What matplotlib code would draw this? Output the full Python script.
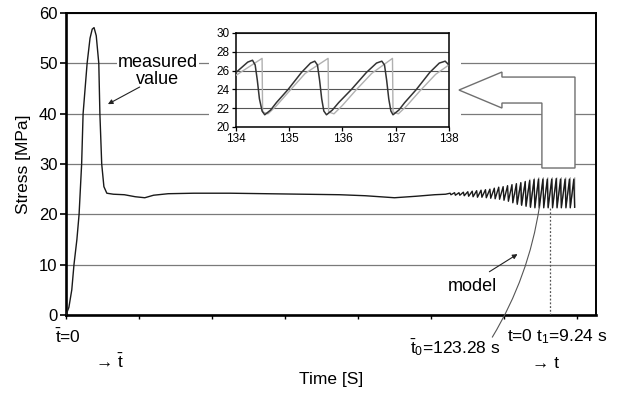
import matplotlib.pyplot as plt
from matplotlib.patches import Polygon, Rectangle

plt.rcParams['font.family'] = ['Liberation Sans', 'DejaVu Sans']
plt.rcParams['mathtext.fontset'] = 'custom'
plt.rcParams['mathtext.rm'] = 'Liberation Sans'
plt.rcParams['mathtext.it'] = 'Liberation Sans'

# ---- measured stress: start-up peak and steady part (s, MPa) ----
meas_t = [0, 0.8, 1.6, 2.2, 3.0, 3.6, 4.3, 4.7, 5.8, 6.6, 7.2, 7.7, 8.3, 9.0, 9.3,
          9.8, 10.4, 11.2, 13, 16, 19, 21.6, 24, 28, 35, 45, 55, 65, 75, 82,
          90, 96, 101, 104]
meas_v = [0, 1.5, 5, 10, 15, 20, 30, 40, 50, 55, 56.8, 57.1, 55.5, 50, 40,
          30, 25.5, 24.2, 24.0, 23.9, 23.5, 23.3, 23.8, 24.1, 24.2, 24.2, 24.1, 24.0, 23.9, 23.7,
          23.3, 23.6, 23.9, 24.0]

# ---- measured oscillation: one peak and one trough per cycle ----
osc_peak_t = [105.25, 106.46, 107.67, 108.88, 110.09, 111.30, 112.51, 113.72, 114.93, 116.14,
              117.35, 118.56, 119.77, 120.98, 122.19, 123.40, 124.61, 125.82, 127.03, 128.24,
              129.45, 130.66, 131.87, 133.08, 134.31, 135.48, 136.74, 137.93, 139.13]
osc_peak_v = [24.2, 24.3, 24.3, 24.4, 24.5, 24.6, 24.7, 24.8, 24.9, 25.0,
              25.2, 25.4, 25.5, 25.7, 25.9, 26.1, 26.3, 26.5, 26.7, 26.9,
              27.0, 27.0, 27.0, 27.0, 27.1, 27.0, 27.0, 27.0, 27.0]
osc_trough_v = [23.9, 23.8, 23.8, 23.7, 23.6, 23.5, 23.4, 23.4, 23.3, 23.2,
                23.1, 23.0, 22.8, 22.6, 22.3, 22.0, 21.8, 21.6, 21.4, 21.3,
                21.3, 21.3, 21.3, 21.3, 21.3, 21.3, 21.3, 21.3, 21.4]
osc_drop = 0.23  # peak-to-trough time

# ---- model oscillation (starts at t0 = 123.28 s) ----
model_peak_t = [123.41, 124.64, 125.87, 127.10, 128.33, 129.56, 130.79, 132.02,
                133.25, 134.49, 135.73, 136.94, 138.17, 139.40]
model_peak_v = [25.8, 26.2, 26.6, 27.0, 27.2, 27.3, 27.3, 27.3, 27.3, 27.3, 27.3, 27.3, 27.3, 27.3]
model_trough_v = [22.4, 22.0, 21.8, 21.6, 21.5, 21.5, 21.5, 21.5, 21.5, 21.5, 21.5, 21.5, 21.5, 21.5]
model_drop = 0.02

# ---- inset detail 134-138 s ----
inset_meas_t = [134.00, 134.12, 134.22, 134.31, 134.36, 134.40, 134.44, 134.49, 134.54,
                134.65, 134.76, 134.98, 135.23, 135.40, 135.48,
                135.53, 135.57, 135.61, 135.65, 135.70,
                135.81, 135.93, 136.17, 136.45, 136.64, 136.74,
                136.79, 136.83, 136.87, 136.91, 136.95,
                137.06, 137.17, 137.39, 137.64, 137.82, 137.93, 138.00]
inset_meas_v = [25.8, 26.4, 26.9, 27.1, 26.6, 25.0, 23.0, 21.7, 21.3,
                21.8, 22.6, 24.0, 25.8, 26.8, 27.0,
                26.6, 25.0, 23.0, 21.7, 21.3,
                21.8, 22.6, 24.0, 25.8, 26.8, 27.0,
                26.6, 25.0, 23.0, 21.7, 21.3,
                21.8, 22.6, 24.0, 25.8, 26.8, 27.0, 26.6]
inset_model_t = [134.00, 134.49, 134.50, 134.60, 134.75, 135.00, 135.30, 135.73,
                 135.74, 135.84, 136.00, 136.25, 136.55, 136.94,
                 136.95, 137.05, 137.20, 137.45, 137.75, 138.00]
inset_model_v = [25.5, 27.3, 21.6, 21.4, 22.2, 23.8, 25.7, 27.3,
                 21.6, 21.4, 22.3, 23.9, 25.7, 27.3,
                 21.6, 21.4, 22.2, 23.8, 25.6, 26.6]

t_model_start = 123.28
t1_line = 132.5

# build zigzags from the peak / trough lists
full_t = list(meas_t)
full_v = list(meas_v)
for pt, pv, tv in zip(osc_peak_t, osc_peak_v, osc_trough_v):
    full_t += [pt, pt + osc_drop]
    full_v += [pv, tv]

mod_t = [t_model_start]
mod_v = [24.0]
for pt, pv, tv in zip(model_peak_t, model_peak_v, model_trough_v):
    mod_t += [pt, pt + model_drop]
    mod_v += [pv, tv]

fig = plt.figure(figsize=(6.28, 3.95), dpi=100)
ax = fig.add_axes([0.105, 0.2025, 0.844, 0.7645])

ax.plot(mod_t, mod_v, color='#9a9a9a', lw=0.7, zorder=3)
ax.plot(full_t, full_v, color='#1a1a1a', lw=1.0, zorder=3)

ax.set_xlim(0, 145.2)
ax.set_ylim(0, 60)
ax.set_yticks(range(0, 61, 10))
ax.set_xticks(range(0, 141, 20))
ax.set_xticklabels([])
ax.tick_params(axis='y', labelsize=12, length=4, width=1.2, direction='out', pad=2)
ax.tick_params(axis='x', length=3, width=1.0, direction='out')
ax.yaxis.grid(True, color='#7a7a7a', lw=0.9)
for side in ['left', 'bottom']:
    ax.spines[side].set_linewidth(1.9)
for side in ['top', 'right']:
    ax.spines[side].set_linewidth(1.4)

ax.set_ylabel('Stress [MPa]', fontsize=12.5, labelpad=6)
ax.set_xlabel('Time [S]', fontsize=12.5)
ax.xaxis.set_label_coords(0.5, -0.19)

# white area behind the inset, and the hollow arrow
ax.add_patch(Rectangle((0.27, 0.54), 0.475, 0.43, transform=ax.transAxes,
                       facecolor='white', edgecolor='none', zorder=2))
arrow_pts = [(0.7415, 0.745), (0.8226, 0.8046), (0.8226, 0.788), (0.9604, 0.788),
             (0.9604, 0.4868), (0.898, 0.4868), (0.898, 0.702), (0.8226, 0.702),
             (0.8226, 0.6854)]
ax.add_patch(Polygon(arrow_pts, closed=True, transform=ax.transAxes,
                     facecolor='white', edgecolor='#6f6f6f', lw=1.0, zorder=2))

# annotations
ax.text(25.2, 48.5, 'measured\nvalue', fontsize=13, ha='center', va='center',
        linespacing=0.95, bbox=dict(facecolor='white', edgecolor='none', pad=0.5),
        zorder=4)
ax.annotate('', xy=(11.5, 41.9), xytext=(20.2, 45.3),
            arrowprops=dict(arrowstyle='-|>', color='#222', lw=0.8,
                            mutation_scale=7, shrinkA=0, shrinkB=0),
            zorder=4)
ax.text(111.4, 5.6, 'model', fontsize=13, ha='center', va='center', zorder=4)
ax.annotate('', xy=(123.7, 12.1), xytext=(116.0, 8.6),
            arrowprops=dict(arrowstyle='-|>', color='#222', lw=0.8,
                            mutation_scale=7, shrinkA=0, shrinkB=0),
            zorder=4)
ax.plot([t1_line, t1_line], [0, 21.5], color='#555', lw=0.9, ls=(0, (1.5, 1.5)), zorder=3)
ax.annotate('', xy=(129.7, 21.5), xytext=(116.8, -4.4),
            arrowprops=dict(arrowstyle='-', color='#555', lw=0.8,
                            connectionstyle='arc3,rad=0.1', shrinkA=0, shrinkB=0),
            annotation_clip=False)

ax.text(0.734, -0.106, r'$\bar{t}_0$=123.28 s', transform=ax.transAxes,
        fontsize=12.5, ha='center', va='center')
ax.text(0.832, -0.073, r't=0 t$_1$=9.24 s', transform=ax.transAxes,
        fontsize=12.5, ha='left', va='center')
ax.text(0.904, -0.159, '\u2192 t', transform=ax.transAxes,
        fontsize=12.5, ha='center', va='center')
ax.text(0.004, -0.073, r'$\bar{t}$=0', transform=ax.transAxes,
        fontsize=12.5, ha='center', va='center')
ax.text(0.083, -0.156, '\u2192 $\\bar{t}$', transform=ax.transAxes,
        fontsize=12.5, ha='center', va='center')

# inset
axi = fig.add_axes([0.3758, 0.6785, 0.339, 0.238])
axi.plot(inset_model_t, inset_model_v, color='#b0b0b0', lw=1.0, zorder=3)
axi.plot(inset_meas_t, inset_meas_v, color='#333333', lw=1.1, zorder=4)
axi.set_xlim(134, 138)
axi.set_ylim(20, 30)
axi.set_xticks(range(134, 139))
axi.set_yticks(range(20, 31, 2))
axi.tick_params(labelsize=8.5, length=3, width=0.9, direction='out', pad=1.5)
axi.yaxis.grid(True, color='#555555', lw=0.8)
for s in axi.spines.values():
    s.set_linewidth(1.1)

fig.savefig('out.png', dpi=100)
